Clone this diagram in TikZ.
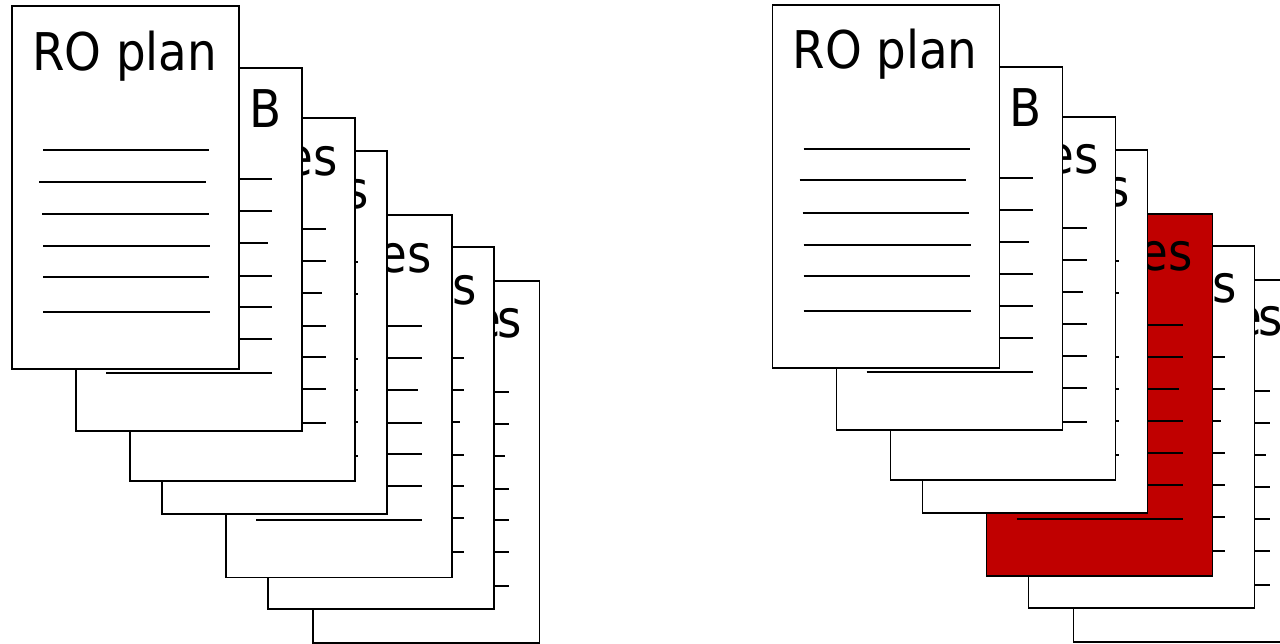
\documentclass[tikz,border=0pt]{standalone}
\usepackage{fontspec}
\newfontfamily\pf{DejaVu Sans Condensed}
\definecolor{pagered}{RGB}{192,0,0}
\tikzset{
  pagebox/.style={draw=black,line width=1.6pt},
  txt/.style={font=\pf\fontsize{52}{60}\selectfont,inner sep=0pt,outer sep=0pt,text=black},
  rule/.style={line width=2pt,draw=black}
}
% a back page: #1,#2 top-left, #3,#4 bottom-right, #5 fill
\newcommand\docpage[5]{%
  \draw[pagebox,fill=#5] (#1,#2) rectangle (#3,#4);
  \foreach \r/\e in {111/196,143/196,175/192,207.5/196,239/196,271/196,305/196}
    \draw[rule] ({#1+30},{#2+\r}) -- ({#1+\e},{#2+\r});
}
% one stack: #1 name prefix, #2 fill of the fifth page
\newcommand\docstack[2]{%
  \docpage{313}{281}{539.5}{643}{white}
  \node[txt,anchor=base east] (#1t7) at (522,337) {e\kern-4pt s};
  \docpage{268}{247}{494}{609}{white}
  \node[txt,anchor=base east] (#1t6) at (476.5,304) {s};
  \docpage{226}{215}{452}{577.5}{#2}
  \node[txt,anchor=base east] (#1t5) at (432,272) {es};
  \docpage{162}{151}{387}{514}{white}
  \node[txt,anchor=base east] (#1t4) at (369,208) {s};
  \docpage{130}{118}{355}{481}{white}
  \node[txt,anchor=base east] (#1t3) at (338,175) {es};
  \docpage{76}{68}{302}{431}{white}
  \node[txt,anchor=base west] (#1t2) at (249,127.5) {B};
  \draw[pagebox,fill=white] (12,6) rectangle (239,369);
  \node[txt,anchor=base west] (#1t1) at (32,70) {RO plan};
  \foreach \r/\s/\e in {150/43/209,181.7/39/205.7,214.3/42/208.7,246/43/210,277.3/43/209,312.3/43/210}
    \draw[rule] (\s,\r) -- (\e,\r);
}
\begin{document}
\begin{tikzpicture}[x=1pt,y=-1pt]
\useasboundingbox (0,0) rectangle (1280,643);
\clip (0,0) rectangle (1280,643);
\begin{scope}
  \docstack{L}{white}
\end{scope}
\begin{scope}[shift={(760.5,-1.3)}]
  \docstack{R}{pagered}
\end{scope}
\end{tikzpicture}
\end{document}
